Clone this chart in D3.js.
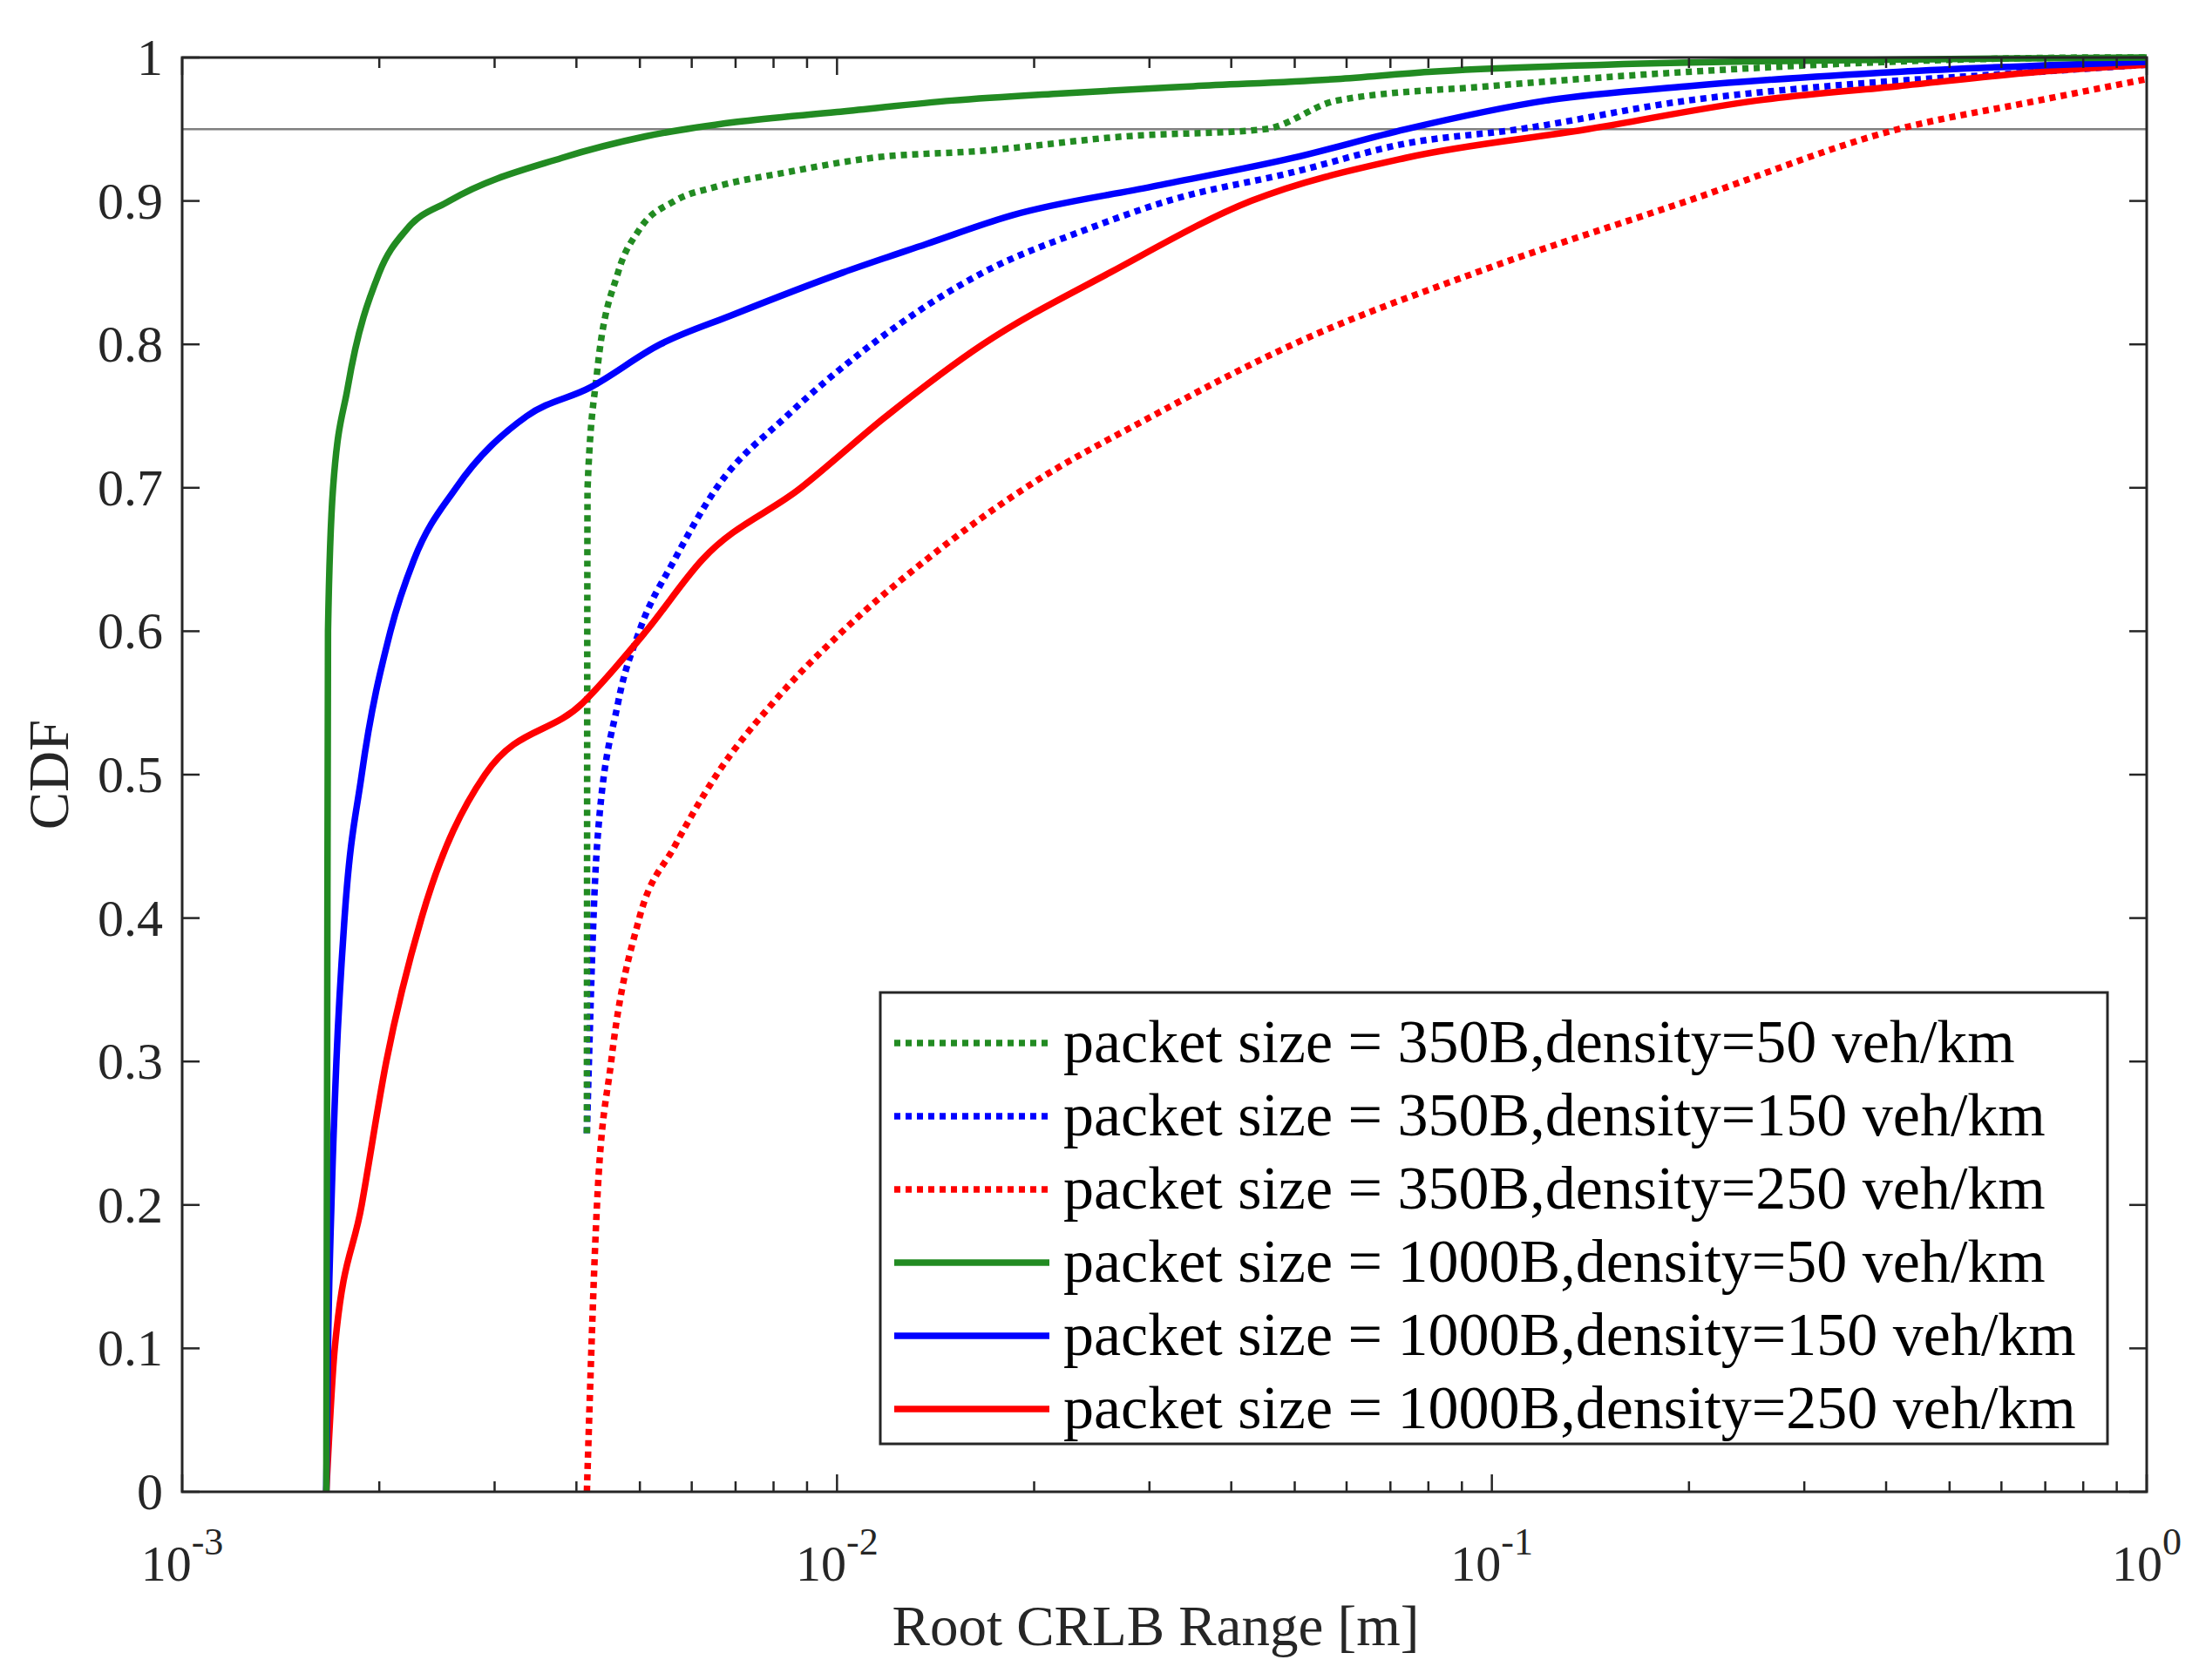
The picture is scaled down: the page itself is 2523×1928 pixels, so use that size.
<!DOCTYPE html>
<html><head><meta charset="utf-8">
<script src="https://cdn.jsdelivr.net/npm/d3@7"></script>
<style>body{margin:0;background:#fff}svg{font-family:"Liberation Serif","Times New Roman",serif}</style>
</head><body><div id="chart"></div>
<script>
// series names (legend order) and their [x, cdf] points
var labels = [
  "packet size = 350B,density=50 veh/km",
  "packet size = 350B,density=150 veh/km",
  "packet size = 350B,density=250 veh/km",
  "packet size = 1000B,density=50 veh/km",
  "packet size = 1000B,density=150 veh/km",
  "packet size = 1000B,density=250 veh/km"
];
var colors = ["#228b22", "#0000ff", "#ff0000", "#228b22", "#0000ff", "#ff0000"];
var dotted = [true, true, true, false, false, false];

var s350_50 = [[4.15e-3,0.25],[4.16e-3,0.7],[4.3e-3,0.78],[4.63e-3,0.85],[4.99e-3,0.88],[5.65e-3,0.9],[6.55e-3,0.91],
  [8.38e-3,0.92],[1.13e-2,0.93],[1.67e-2,0.935],[2.75e-2,0.945],[4.5e-2,0.95],[5.8e-2,0.97],[9.9e-2,0.98],[0.199,0.99],[0.875,1.0],[1,1]];
var s350_150 = [[4.15e-3,0.25],[4.3e-3,0.45],[4.63e-3,0.55],[4.99e-3,0.6],[5.65e-3,0.65],[6.55e-3,0.7],[8.38e-3,0.75],
  [1.13e-2,0.8],[1.67e-2,0.85],[2.4e-2,0.88],[3.2e-2,0.9],[4.97e-2,0.92],[7.38e-2,0.94],[0.110,0.95],[0.199,0.97],[0.325,0.98],[0.683,0.99],[1,0.995]];
var s350_250 = [[4.15e-3,0],[4.3e-3,0.2],[4.52e-3,0.3],[4.99e-3,0.4],[5.65e-3,0.45],[6.55e-3,0.5],[7.98e-3,0.55],[1.02e-2,0.6],
  [1.37e-2,0.65],[1.94e-2,0.7],[3.03e-2,0.75],[4.97e-2,0.8],[9.45e-2,0.85],[0.199,0.9],[0.417,0.95],[0.683,0.97],[1,0.985]];
var s1000_50 = [[1.66e-3,0],[1.665e-3,0.3],[1.67e-3,0.6],[1.70e-3,0.7],[1.79e-3,0.77],[2.0e-3,0.85],[2.2e-3,0.88],[2.56e-3,0.9],
  [3.8e-3,0.93],[5.1e-3,0.945],[7e-3,0.955],[1.0e-2,0.962],[1.5e-2,0.97],[2.2e-2,0.975],[3.5e-2,0.98],[5.8e-2,0.985],[8e-2,0.99],[0.15,0.995],[0.5,0.999],[1,1]];
var s1000_150 = [[1.66e-3,0],[1.67e-3,0.1],[1.69e-3,0.2],[1.72e-3,0.3],[1.77e-3,0.4],[1.88e-3,0.5],[2.08e-3,0.6],[2.26e-3,0.65],
  [2.62e-3,0.7],[3.36e-3,0.75],[4.2e-3,0.77],[5.37e-3,0.8],[6.88e-3,0.82],[1.02e-2,0.85],[1.37e-2,0.87],[1.85e-2,0.89],
  [3.03e-2,0.91],[4.97e-2,0.93],[7.38e-2,0.95],[0.121,0.97],[0.199,0.98],[0.417,0.99],[1,0.997]];
var s1000_250 = [[1.66e-3,0],[1.71e-3,0.1],[1.88e-3,0.2],[2.05e-3,0.3],[2.32e-3,0.4],[2.9e-3,0.5],[4.09e-3,0.55],[5.11e-3,0.6],
  [6.23e-3,0.65],[8.81e-3,0.7],[1.19e-2,0.75],[1.67e-2,0.8],[2.61e-2,0.85],[4.29e-2,0.9],[7.38e-2,0.93],[0.140,0.95],
  [0.254,0.97],[0.417,0.98],[0.683,0.99],[1,0.995]];
var series = [s350_50, s350_150, s350_250, s1000_50, s1000_150, s1000_250];

var yTicks = [0,0.1,0.2,0.3,0.4,0.5,0.6,0.7,0.8,0.9,1];
var xTicks = [1e-3,1e-2,1e-1,1];
var xTickExp = ["-3","-2","-1","0"];
var refLine = 0.95;

var W = 2523, H = 1928;
var m = {left: 209, right: 2463, top: 66, bottom: 1712};
var svg = d3.select("#chart").append("svg").attr("width", W).attr("height", H);
var x = d3.scaleLog().domain([1e-3, 1]).range([m.left, m.right]);
var y = d3.scaleLinear().domain([0, 1]).range([m.bottom, m.top]);

var g = svg.append("g");

// reference line
g.append("line").attr("x1", m.left).attr("x2", m.right).attr("y1", y(refLine)).attr("y2", y(refLine))
  .attr("stroke", "#808080").attr("stroke-width", 2.5);

var line = d3.line().curve(d3.curveMonotoneX)
  .x(function(d){ return x(d[0]); }).y(function(d){ return y(d[1]); });
var order = [2, 1, 0, 5, 4, 3];
order.forEach(function(i){
  g.append("path").attr("d", line(series[i])).attr("fill", "none")
    .attr("stroke", colors[i]).attr("stroke-width", 7.5)
    .attr("stroke-dasharray", dotted[i] ? "7,6" : null);
});

// ticks inside box
var tl = 20, ax = "#262626";
var minors = [];
for (var e = -3; e < 0; e++) for (var k = 2; k < 10; k++) minors.push(k * Math.pow(10, e));
minors.concat(xTicks).forEach(function(v){
  var len = xTicks.indexOf(v) >= 0 ? tl : tl * 0.6;
  g.append("line").attr("x1", x(v)).attr("x2", x(v)).attr("y1", m.bottom).attr("y2", m.bottom - len).attr("stroke", ax).attr("stroke-width", 2.5);
  g.append("line").attr("x1", x(v)).attr("x2", x(v)).attr("y1", m.top).attr("y2", m.top + len).attr("stroke", ax).attr("stroke-width", 2.5);
});
yTicks.forEach(function(v){
  g.append("line").attr("x1", m.left).attr("x2", m.left + tl).attr("y1", y(v)).attr("y2", y(v)).attr("stroke", ax).attr("stroke-width", 2.5);
  g.append("line").attr("x1", m.right).attr("x2", m.right - tl).attr("y1", y(v)).attr("y2", y(v)).attr("stroke", ax).attr("stroke-width", 2.5);
  g.append("text").attr("x", m.left - 22).attr("y", y(v) + 20).attr("text-anchor", "end")
    .attr("font-size", 60).attr("fill", "#262626").text(v === 0 || v === 1 ? String(v) : v.toFixed(1));
});
g.append("rect").attr("x", m.left).attr("y", m.top).attr("width", m.right - m.left).attr("height", m.bottom - m.top)
  .attr("fill", "none").attr("stroke", ax).attr("stroke-width", 3);

xTicks.forEach(function(v, i){
  var t = g.append("text").attr("x", x(v)).attr("y", m.bottom + 102).attr("text-anchor", "middle")
    .attr("font-size", 58).attr("fill", "#262626");
  t.append("tspan").text("10");
  t.append("tspan").attr("dy", -30).attr("font-size", 44).text(xTickExp[i]);
});

svg.append("text").attr("x", (m.left + m.right) / 2 - 10).attr("y", 1888).attr("text-anchor", "middle")
  .attr("font-size", 65).attr("fill", "#262626").text("Root CRLB Range [m]");
svg.append("text").attr("transform", "translate(78," + ((m.top + m.bottom) / 2) + ") rotate(-90)")
  .attr("text-anchor", "middle").attr("font-size", 65).attr("fill", "#262626").text("CDF");

// legend
var lg = svg.append("g");
lg.append("rect").attr("x", 1010).attr("y", 1139).attr("width", 1408).attr("height", 518)
  .attr("fill", "#fff").attr("stroke", ax).attr("stroke-width", 3);
labels.forEach(function(l, i){
  var cy = 1197 + i * 84;
  lg.append("line").attr("x1", 1026).attr("x2", 1204).attr("y1", cy).attr("y2", cy)
    .attr("stroke", colors[i]).attr("stroke-width", 7.5).attr("stroke-dasharray", dotted[i] ? "7,6" : null);
  lg.append("text").attr("x", 1220).attr("y", cy + 22).attr("font-size", 70).attr("fill", "#000").text(l);
});
</script></body></html>
